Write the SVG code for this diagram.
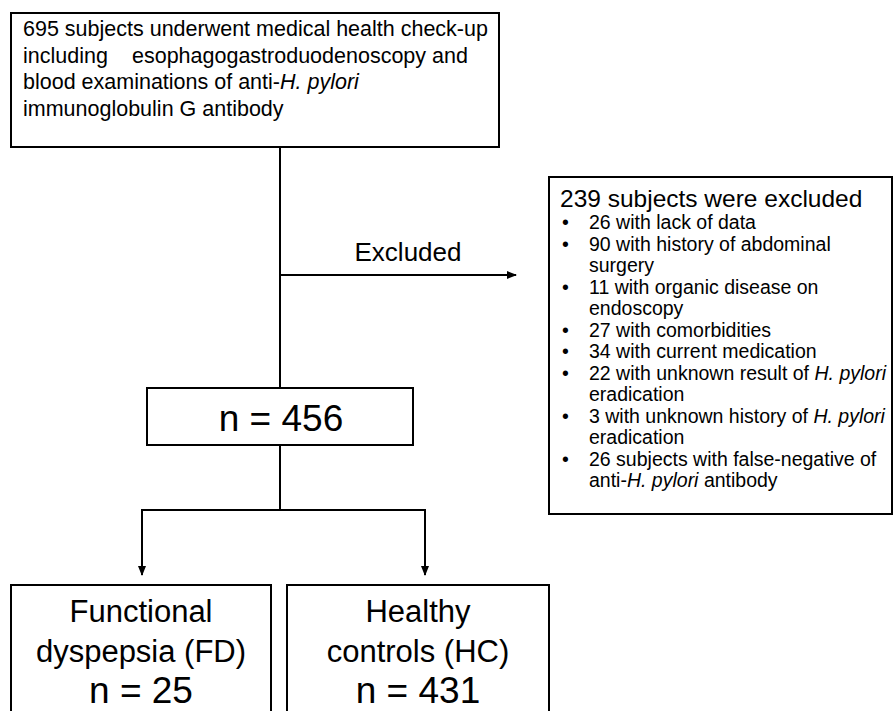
<svg xmlns="http://www.w3.org/2000/svg" width="894" height="711" viewBox="0 0 894 711">
<style>
.box{fill:#fff;stroke:#000;stroke-width:2}
.ln{fill:none;stroke:#000;stroke-width:2}
text{font-family:"Liberation Sans",Arial,sans-serif;fill:#000}
.t1{font-size:21.5px}
.t2{font-size:19.5px}
.big{font-size:31px}
.n{font-size:37px}
</style>
<defs>
<marker id="ah" markerWidth="10" markerHeight="8" refX="9" refY="4" orient="auto" markerUnits="userSpaceOnUse">
<path d="M0,0 L10,4 L0,8 Z" fill="#000"/>
</marker>
</defs>
<g id="connectors">
<line class="ln" x1="280" y1="147" x2="280" y2="388"/>
<line class="ln" x1="280" y1="275" x2="516" y2="275" marker-end="url(#ah)"/>
<text x="408" y="261" text-anchor="middle" style="font-size:26px">Excluded</text>
<line class="ln" x1="280" y1="445" x2="280" y2="510"/>
<polyline class="ln" points="142,574 142,510 425,510 425,574"/>
<line class="ln" x1="142" y1="540" x2="142" y2="575" marker-end="url(#ah)"/>
<line class="ln" x1="425" y1="540" x2="425" y2="575" marker-end="url(#ah)"/>
</g>
<g id="n695">
<rect class="box" x="11" y="13" width="488" height="134"/>
<text class="t1" x="23" y="36">695 subjects underwent medical health check-up</text>
<text class="t1" y="62.5"><tspan x="23">including</tspan><tspan x="132">esophagogastroduodenoscopy and</tspan></text>
<text class="t1" x="23" y="89">blood examinations of anti-<tspan font-style="italic">H. pylori</tspan></text>
<text class="t1" x="23" y="115.5">immunoglobulin G antibody</text>
</g>
<g id="excluded">
<rect class="box" x="549" y="177" width="343" height="337"/>
<text x="560" y="207" style="font-size:24.5px">239 subjects were excluded</text>
<g class="t2">
<text x="562" y="229">•</text><text x="589" y="229">26 with lack of data</text>
<text x="562" y="250.5">•</text><text x="589" y="250.5">90 with history of abdominal</text>
<text x="589" y="272">surgery</text>
<text x="562" y="293.5">•</text><text x="589" y="293.5">11 with organic disease on</text>
<text x="589" y="315">endoscopy</text>
<text x="562" y="336.5">•</text><text x="589" y="336.5">27 with comorbidities</text>
<text x="562" y="358">•</text><text x="589" y="358">34 with current medication</text>
<text x="562" y="379.5">•</text><text x="589" y="379.5">22 with unknown result of <tspan font-style="italic">H. pylori</tspan></text>
<text x="589" y="401">eradication</text>
<text x="562" y="422.5">•</text><text x="589" y="422.5">3 with unknown history of <tspan font-style="italic">H. pylori</tspan></text>
<text x="589" y="444">eradication</text>
<text x="562" y="465.5">•</text><text x="589" y="465.5">26 subjects with false-negative of</text>
<text x="589" y="487">anti-<tspan font-style="italic">H. pylori</tspan> antibody</text>
</g>
</g>
<g id="n456">
<rect class="box" x="147" y="388" width="266" height="57"/>
<text class="n" x="281" y="431" text-anchor="middle">n = 456</text>
</g>
<g id="fd">
<rect class="box" x="11" y="585" width="260" height="140"/>
<text class="big" x="141" y="622" text-anchor="middle">Functional</text>
<text class="big" x="141" y="662" text-anchor="middle">dyspepsia (FD)</text>
<text class="n" x="141" y="703" text-anchor="middle">n = 25</text>
</g>
<g id="hc">
<rect class="box" x="287" y="585" width="262" height="140"/>
<text class="big" x="418" y="622" text-anchor="middle">Healthy</text>
<text class="big" x="418" y="662" text-anchor="middle">controls (HC)</text>
<text class="n" x="418" y="703" text-anchor="middle">n = 431</text>
</g>
</svg>
